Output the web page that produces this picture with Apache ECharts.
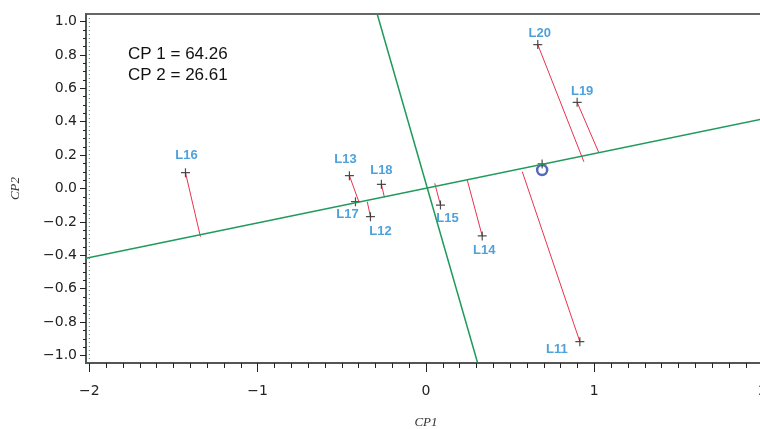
<!DOCTYPE html>
<html>
<head>
<meta charset="utf-8">
<script src="https://cdn.jsdelivr.net/npm/echarts@6/dist/echarts.min.js"></script>
<style>html,body{margin:0;padding:0;background:#fff;}#c{width:760px;height:429px;}</style>
</head>
<body>
<div id="c"></div>
<script>
// ---- data ----
const pointNames = ['L11','L12','L13','L14','L15','L16','L17','L18','L19','L20'];
const pointX = [0.914, -0.330, -0.455, 0.334, 0.086, -1.429, -0.419, -0.265, 0.898, 0.664];
const pointY = [-0.917, -0.169, 0.077, -0.284, -0.099, 0.095, -0.079, 0.025, 0.516, 0.862];
const footX = [0.572, -0.349, -0.399, 0.245, 0.052, -1.340, null, -0.247, 1.027, 0.938];
const footY = [0.101, -0.079, -0.079, 0.051, 0.031, -0.289, null, -0.053, 0.214, 0.160];
const axis1X = [-2.02, 2.02];
const axis1Y = [-0.418, 0.421];
const axis2X = [-0.290, 0.306];
const axis2Y = [1.045, -1.042];
const refX = [-2, -2];
const refY = [-1.045, 1.045];
const centerX = [0.690];
const centerY = [0.147];
const circleX = [0.690];
const circleY = [0.111];
const xTickLabels = [-2, -1, 0, 1, 2];
const yTickLabels = [-1.0, -0.8, -0.6, -0.4, -0.2, 0.0, 0.2, 0.4, 0.6, 0.8, 1.0];
const infoLines = ['CP 1 = 64.26', 'CP 2 = 26.61'];

// ---- styles ----
const labelOffsets = {L11:[-23,8], L12:[10,15], L13:[-4,-16], L14:[2,14], L15:[7,13], L16:[1,-17], L17:[-8,13], L18:[0,-14], L19:[5,-11], L20:[2,-11]};
const GREEN = '#1f9a5c', RED = '#e8324e', LBL = '#2389d3';
const plusPath = 'path://M0,5L10,5M5,0L5,10';

const xMinor = []; for (let i = -20; i <= 20; i++) xMinor.push(i / 10);
const yMinor = []; for (let i = -20; i <= 20; i++) yMinor.push(i / 20);

const chart = echarts.init(document.getElementById('c'), null, {renderer: 'canvas'});
const labFont = {fontFamily: 'DejaVu Sans', fontSize: 14, color: '#222'};
const option = {
  animation: false,
  grid: {left: 86, top: 14, width: 680, height: 349, show: true, borderColor: '#666', borderWidth: 2,
         backgroundColor: 'transparent', containLabel: false, outerBoundsMode: 'none'},
  xAxis: [
    {type: 'value', min: -2.02, max: 2.02, position: 'bottom', splitLine: {show: false},
     axisLine: {onZero: false, lineStyle: {color: '#555', width: 2}},
     axisTick: {customValues: xTickLabels, length: 9, lineStyle: {color: '#222', width: 1}},
     axisLabel: Object.assign({customValues: xTickLabels, margin: 21, formatter: v => (v < 0 ? '\u2212' : '') + Math.abs(v)}, labFont),
     name: 'CP1', nameLocation: 'middle', nameGap: 53,
     nameTextStyle: {fontFamily: 'Liberation Serif', fontStyle: 'italic', fontSize: 13, color: '#333'}},
    {type: 'value', min: -2.02, max: 2.02, position: 'bottom', splitLine: {show: false},
     axisLine: {show: false, onZero: false},
     axisTick: {customValues: xMinor, length: 5, lineStyle: {color: '#222', width: 1}},
     axisLabel: {show: false}}
  ],
  yAxis: [
    {type: 'value', min: -1.045, max: 1.045, position: 'left', splitLine: {show: false},
     axisLine: {onZero: false, lineStyle: {color: '#555', width: 2}},
     axisTick: {customValues: yTickLabels, length: 6, lineStyle: {color: '#222', width: 1}},
     axisLabel: Object.assign({customValues: yTickLabels, margin: 9, formatter: v => (v < -1e-9 ? '\u2212' : '') + Math.abs(v).toFixed(1)}, labFont),
     name: 'CP2', nameLocation: 'middle', nameGap: 64,
     nameTextStyle: {fontFamily: 'Liberation Serif', fontStyle: 'italic', fontSize: 13, color: '#333'}},
    {type: 'value', min: -1.045, max: 1.045, position: 'left', splitLine: {show: false},
     axisLine: {show: false, onZero: false},
     axisTick: {customValues: yMinor, length: 3, lineStyle: {color: '#222', width: 1}},
     axisLabel: {show: false}}
  ],
  graphic: infoLines.map((t, i) => ({
    type: 'text', left: 128, top: 46 + i * 21,
    style: {text: t, fontFamily: 'Liberation Sans', fontSize: 17, fill: '#111'}
  })),
  series: [
    {type: 'line', data: refX.map((x, i) => [x, refY[i]]), symbol: 'none', silent: true,
     lineStyle: {color: GREEN, width: 1, type: [1, 3]}},
    {type: 'line', data: axis1X.map((x, i) => [x, axis1Y[i]]), symbol: 'none', silent: true,
     lineStyle: {color: GREEN, width: 1.5}},
    {type: 'line', data: axis2X.map((x, i) => [x, axis2Y[i]]), symbol: 'none', silent: true,
     lineStyle: {color: GREEN, width: 1.5}},
    {type: 'lines', coordinateSystem: 'cartesian2d', silent: true,
     lineStyle: {color: RED, width: 1, opacity: 1},
     data: pointX.map((x, i) => footX[i] == null ? null : {coords: [[x, pointY[i]], [footX[i], footY[i]]]}).filter(d => d)},
    {type: 'scatter', symbol: plusPath, symbolSize: 9, silent: true,
     itemStyle: {color: 'none', borderColor: '#222', borderWidth: 1.2},
     data: pointNames.map((n, i) => ({name: n, value: [pointX[i], pointY[i]],
       label: {show: true, position: 'inside', offset: labelOffsets[n], formatter: n,
               fontFamily: 'Liberation Sans', fontWeight: 'bold', fontSize: 13, color: LBL}}))},
    {type: 'scatter', symbol: 'circle', symbolSize: 10, silent: true,
     itemStyle: {color: 'none', borderColor: '#2b45a6', borderWidth: 2.5},
     data: circleX.map((x, i) => [x, circleY[i]])},
    {type: 'scatter', symbol: plusPath, symbolSize: 9, silent: true,
     itemStyle: {color: 'none', borderColor: '#222', borderWidth: 1.2},
     data: centerX.map((x, i) => [x, centerY[i]])}
  ]
};
chart.setOption(option);
</script>
</body>
</html>
